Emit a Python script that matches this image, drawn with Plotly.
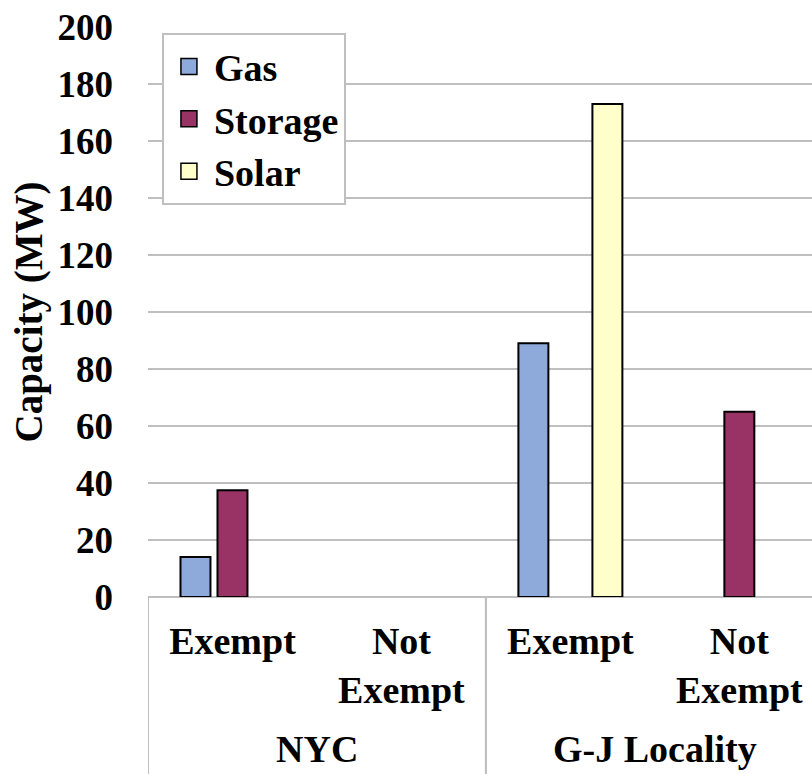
import plotly.graph_objects as go

# Category levels (outer region, inner exemption status)
regions = ["NYC", "NYC", "G-J Locality", "G-J Locality"]
statuses = ["Exempt", "Not<br>Exempt", "Exempt", "Not<br>Exempt"]

# Capacity in MW by technology (None = no capacity)
gas = [14, None, 89, None]
storage = [37.5, None, None, 65]
solar = [None, None, 173, None]

series_names = ["Gas", "Storage", "Solar"]
series_colors = ["#8eaadb", "#993366", "#ffffcc"]

y_ticks = list(range(0, 201, 20))

FONT = "Liberation Serif, Times New Roman, serif"
FS = 38
GRID = "#bfbfbf"


def bold_font(size=FS):
    return dict(family=FONT, size=size, color="black", weight="bold")


# one category key per (region, status) pair
keys = [f"{r}|{s}" for r, s in zip(regions, statuses)]

fig = go.Figure()
for name, vals, col in zip(series_names, [gas, storage, solar], series_colors):
    fig.add_trace(go.Bar(
        x=keys, y=vals, name=name,
        marker=dict(color=col, line=dict(color="black", width=2)),
        showlegend=False,
    ))

# Legend entries with larger square swatches
for name, col in zip(series_names, series_colors):
    fig.add_trace(go.Scatter(
        x=[keys[0]], y=[None], mode="markers", name=name,
        legendgroup=name,
        marker=dict(symbol="square", size=20, color=col,
                    line=dict(color="black", width=1.5)),
    ))

# Region group labels and the divider lines of the category table
region_order = list(dict.fromkeys(regions))
shapes = []
annotations = []
for reg in region_order:
    idx = [i for i, r in enumerate(regions) if r == reg]
    lo, hi = idx[0] - 0.5, idx[-1] + 0.5
    annotations.append(dict(
        x=(lo + hi) / 2, xref="x", y=-0.266, yref="paper",
        text=reg, showarrow=False, xanchor="center", yanchor="middle",
        font=bold_font(),
    ))
    for xb in (lo, hi):
        shapes.append(dict(
            type="line", xref="x", yref="paper", x0=xb, x1=xb, y0=0, y1=-0.32,
            line=dict(color=GRID, width=2), layer="below",
        ))

fig.update_layout(
    width=812, height=774,
    margin=dict(l=148, r=0, t=27, b=177),
    paper_bgcolor="white", plot_bgcolor="white",
    barmode="group", bargap=0.343, bargroupgap=0.19,
    font=bold_font(),
    legend=dict(
        x=0.021, y=0.989, xanchor="left", yanchor="top",
        bgcolor="white", bordercolor=GRID, borderwidth=2,
        font=bold_font(),
        tracegroupgap=0, itemsizing="trace", itemwidth=40,
    ),
    xaxis=dict(
        type="category", range=[-0.5, 3.43],
        tickvals=keys, ticktext=statuses,
        tickfont=bold_font(),
        ticklabelstandoff=18,
        showline=False, showgrid=False, ticks="",
    ),
    yaxis=dict(
        range=[0, 200], tickvals=y_ticks,
        showgrid=True, gridcolor=GRID, gridwidth=2,
        zeroline=True, zerolinecolor=GRID, zerolinewidth=2,
        ticks="", ticklabelstandoff=34,
        tickfont=bold_font(37),
        title=dict(text="Capacity (MW)", standoff=2, font=bold_font(39)),
    ),
    shapes=shapes,
    annotations=annotations,
)

fig.write_html("out.html")
